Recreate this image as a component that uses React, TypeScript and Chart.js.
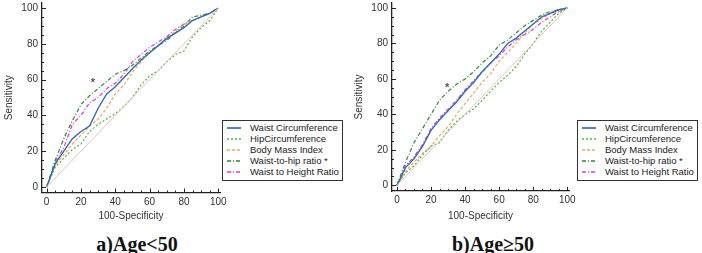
import React, { useEffect, useRef } from "react";
import { Chart, registerables } from "chart.js";

Chart.register(...registerables);

// 100-Specificity values shared by every ROC curve
const SPECIFICITY = [0, 5, 10, 15, 20, 25, 30, 35, 40, 45, 50, 55, 60, 65, 70, 75, 80, 85, 90, 95, 100];
const AXIS_TICKS = [0, 20, 40, 60, 80, 100];
const MINOR_STEP = 5;

// Sensitivity, age < 50
const U50_WAIST = [0, 13, 20, 27, 31, 34, 44, 52, 56, 61, 66, 71, 75, 79, 83, 86, 89, 93, 95, 97, 100];
const U50_HIP = [0, 11, 16, 21, 24, 31, 35, 38, 41, 45, 50, 57, 62, 65, 70, 74, 76, 84, 89, 93, 100];
const U50_BMI = [0, 12, 18, 24, 29, 34, 38, 44, 52, 57, 64, 70, 75, 79, 83, 87, 91, 93, 95, 97, 100];
const U50_WHR = [0, 15, 27, 37, 46, 51, 55, 59, 63, 65, 68, 72, 76, 79, 82, 86, 90, 95, 96, 97, 100];
const U50_WHTR = [0, 14, 22, 35, 40, 47, 50, 55, 58, 63, 70, 74, 78, 81, 84, 88, 91, 93, 95, 97, 100];

// Sensitivity, age >= 50
const O50_WAIST = [0, 10, 15, 22, 31, 37, 42, 47, 53, 58, 64, 69, 74, 80, 83, 87, 91, 95, 97, 99, 100];
const O50_HIP = [0, 7, 11, 17, 22, 24, 31, 36, 40, 43, 48, 53, 58, 62, 67, 74, 80, 87, 92, 97, 100];
const O50_BMI = [0, 8, 13, 18, 22, 28, 33, 40, 46, 52, 58, 63, 70, 75, 80, 86, 91, 94, 97, 98, 100];
const O50_WHR = [0, 13, 24, 32, 40, 48, 53, 57, 60, 64, 69, 73, 79, 82, 86, 90, 93, 96, 98, 99, 100];
const O50_WHTR = [0, 11, 16, 23, 32, 38, 43, 48, 54, 59, 64, 69, 73, 78, 82, 85, 88, 92, 95, 98, 100];

const DIAGONAL_X = [0, 100];
const DIAGONAL_Y = [0, 100];

// Significance marker position (x, y) for each panel
const U50_STAR = [27, 59];
const O50_STAR = [29.5, 56];

const LABELS = [
  "Waist Circumference",
  "HipCircumference",
  "Body Mass Index",
  "Waist-to-hip ratio *",
  "Waist to Height Ratio",
];

type Style = { color: string; dash: number[]; width: number };
const STYLES: Style[] = [
  { color: "#2f6db5", dash: [], width: 1.4 },
  { color: "#4cbb3c", dash: [2, 2], width: 1.2 },
  { color: "#f4a460", dash: [3, 2], width: 1.2 },
  { color: "#2e8a2e", dash: [4, 2, 1, 2], width: 1.2 },
  { color: "#e832e8", dash: [4, 2, 1, 2], width: 1.2 },
];

const FONT = "Arial, 'Liberation Sans', sans-serif";

type PanelProps = {
  left: number;
  width: number;
  axisLeft: number; // y axis width
  axisBottom: number; // x axis height
  padRight: number;
  padTop: number;
  xMin: number;
  yMin: number;
  yMax: number;
  series: number[][];
  star: number[];
  legendLeft: number;
  title: string;
  titleCenter: number;
};

const CANVAS_H = 225;

function Panel(p: PanelProps) {
  const ref = useRef<HTMLCanvasElement>(null);
  useEffect(() => {
    if (!ref.current) return;
    // tick marks (pointing inward), tick labels and the '*' marker
    const decorPlugin = {
      id: "decor",
      afterDatasetsDraw(chart: any) {
        const { ctx, scales } = chart;
        const sx = scales.x;
        const sy = scales.y;
        const x0 = sx.left;
        const y0 = sy.bottom;
        ctx.save();
        ctx.strokeStyle = "#222";
        ctx.lineWidth = 1;
        ctx.beginPath();
        for (let v = 0; v <= 100; v += MINOR_STEP) {
          const major = AXIS_TICKS.includes(v);
          const len = major ? 4 : 2;
          const px = Math.round(sx.getPixelForValue(v)) + 0.5;
          ctx.moveTo(px, y0);
          ctx.lineTo(px, y0 - len);
          const py = Math.round(sy.getPixelForValue(v)) + 0.5;
          ctx.moveTo(x0, py);
          ctx.lineTo(x0 + len, py);
        }
        ctx.stroke();

        ctx.fillStyle = "#333";
        ctx.font = `10px ${FONT}`;
        ctx.textBaseline = "middle";
        ctx.textAlign = "center";
        for (const v of AXIS_TICKS) {
          ctx.fillText(String(v), sx.getPixelForValue(v), y0 + 9.5);
        }
        ctx.textAlign = "right";
        for (const v of AXIS_TICKS) {
          ctx.fillText(String(v), x0 - 4, sy.getPixelForValue(v));
        }

        const x = sx.getPixelForValue(p.star[0]);
        const y = sy.getPixelForValue(p.star[1]);
        ctx.fillStyle = "#555";
        ctx.font = `bold 11px ${FONT}`;
        ctx.textAlign = "center";
        ctx.fillText("*", x, y + 2);
        ctx.restore();
      },
    };
    const datasets: any[] = [
      {
        label: "ref",
        data: DIAGONAL_X.map((x, i) => ({ x, y: DIAGONAL_Y[i] })),
        borderColor: "#ebc0c0",
        borderWidth: 1,
        pointRadius: 0,
      },
      ...p.series.map((vals, k) => ({
        label: LABELS[k],
        data: SPECIFICITY.map((x, i) => ({ x, y: vals[i] })),
        borderColor: STYLES[k].color,
        borderDash: STYLES[k].dash,
        borderWidth: STYLES[k].width,
        pointRadius: 0,
        tension: 0,
      })),
    ];
    const axisBase = {
      type: "linear" as const,
      border: { display: true, color: "#222", width: 1.3 },
      grid: { display: false, drawTicks: false },
      ticks: { display: false },
    };
    const chart = new Chart(ref.current, {
      type: "line",
      data: { datasets },
      plugins: [decorPlugin],
      options: {
        animation: false,
        responsive: false,
        maintainAspectRatio: false,
        layout: { padding: { top: p.padTop, right: p.padRight, left: 0, bottom: 0 } },
        plugins: { legend: { display: false }, tooltip: { enabled: false } },
        scales: {
          x: {
            ...axisBase,
            min: p.xMin,
            max: 101,
            afterFit: (s: any) => {
              s.height = p.axisBottom;
            },
            title: {
              display: true,
              text: "100-Specificity",
              color: "#333",
              font: { family: FONT, size: 10 },
              padding: { top: 0, bottom: 3 },
            },
          },
          y: {
            ...axisBase,
            min: p.yMin,
            max: p.yMax,
            afterFit: (s: any) => {
              s.width = p.axisLeft;
            },
            title: {
              display: true,
              text: "Sensitivity",
              color: "#333",
              font: { family: FONT, size: 10 },
              padding: { top: 3, bottom: 0 },
            },
          },
        },
      },
    });
    return () => chart.destroy();
  }, []);

  return (
    <>
      <canvas
        ref={ref}
        width={p.width}
        height={CANVAS_H}
        style={{ position: "absolute", left: p.left, top: 0, width: p.width, height: CANVAS_H }}
      />
      <div
        style={{
          position: "absolute",
          left: p.legendLeft,
          top: 120,
          width: 119,
          height: 58,
          border: "1px solid #333",
          background: "#fff",
          fontFamily: FONT,
          fontSize: 9.5,
          color: "#222",
          paddingTop: 1,
          boxSizing: "content-box",
        }}
      >
        {LABELS.map((lab, k) => (
          <div key={lab} style={{ height: 11, lineHeight: "11px", display: "flex", alignItems: "center", whiteSpace: "nowrap" }}>
            <svg width={22} height={11} style={{ flex: "none", marginLeft: 3, marginRight: 2 }}>
              <line
                x1={1}
                y1={6}
                x2={15}
                y2={6}
                stroke={STYLES[k].color}
                strokeWidth={STYLES[k].width + 0.3}
                strokeDasharray={STYLES[k].dash.length ? STYLES[k].dash.join(" ") : undefined}
              />
            </svg>
            <span>{lab}</span>
          </div>
        ))}
      </div>
      <div
        style={{
          position: "absolute",
          left: p.titleCenter - 100,
          width: 200,
          top: 232,
          textAlign: "center",
          fontFamily: "'Liberation Serif', 'Times New Roman', serif",
          fontWeight: "bold",
          fontSize: 20,
          lineHeight: "24px",
          color: "#111",
        }}
      >
        {p.title}
      </div>
    </>
  );
}

export default function App() {
  return (
    <div style={{ position: "fixed", left: 0, top: 0, width: 702, height: 253, background: "#fff", overflow: "hidden" }}>
      <Panel
        left={0}
        width={350}
        axisLeft={42}
        axisBottom={32.5}
        padRight={130}
        padTop={3}
        xMin={-2.7}
        yMin={-3.1}
        yMax={102.8}
        series={[U50_WAIST, U50_HIP, U50_BMI, U50_WHR, U50_WHTR]}
        star={U50_STAR}
        legendLeft={222}
        title="a)Age<50"
        titleCenter={137}
      />
      <Panel
        left={350}
        width={352}
        axisLeft={42}
        axisBottom={34}
        padRight={133}
        padTop={3}
        xMin={-2.9}
        yMin={-3.2}
        yMax={102.8}
        series={[O50_WAIST, O50_HIP, O50_BMI, O50_WHR, O50_WHTR]}
        star={O50_STAR}
        legendLeft={577}
        title="b)Age≥50"
        titleCenter={493}
      />
    </div>
  );
}
